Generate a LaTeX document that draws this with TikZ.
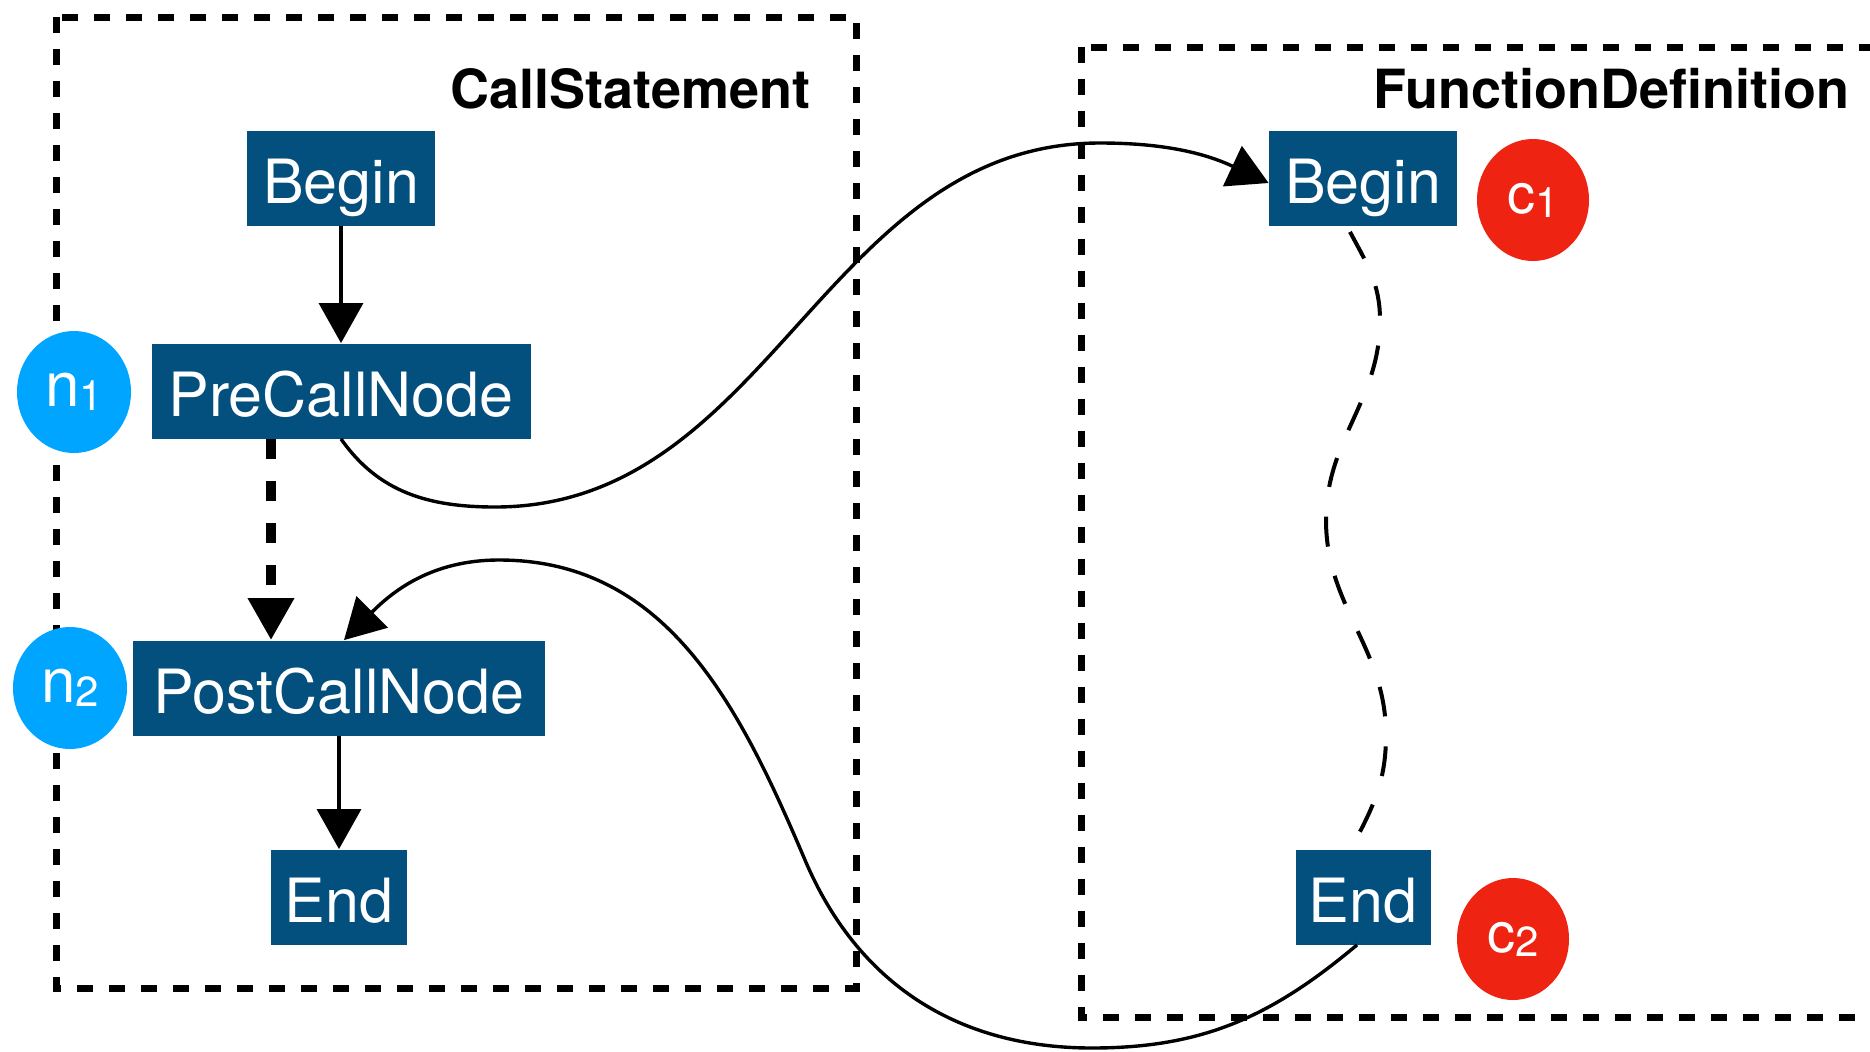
\documentclass[tikz,border=0pt]{standalone}
\usepackage{fontspec}
\setmainfont{TeX Gyre Heros}
\usetikzlibrary{arrows.meta,shapes.geometric}
\definecolor{boxblue}{RGB}{3,79,126}
\definecolor{nblue}{RGB}{0,165,255}
\definecolor{cred}{RGB}{238,35,17}
\newcommand{\idx}[1]{\raisebox{-2pt}{\fontsize{21}{21}\selectfont #1}}

\begin{document}
\begin{tikzpicture}[x=0.5pt, y=-0.5pt,
        blk/.style={fill=boxblue, text=white, minimum height=47.5pt, inner sep=0pt, text height=25pt, text depth=0pt, font=\fontsize{30.5}{30.5}\selectfont},
        ncirc/.style={ellipse, fill=nblue, text=white, minimum width=57pt, minimum height=61pt, inner sep=0pt, font=\fontsize{31}{31}\selectfont},
        ccirc/.style={ellipse, fill=cred, text=white, minimum width=56pt, minimum height=61pt, inner sep=0pt, font=\fontsize{28}{28}\selectfont},
        boxtitle/.style={anchor=base east, inner sep=0pt, font=\bfseries\fontsize{27}{27}\selectfont},
        dashframe/.style={line width=3.5pt, dash pattern=on 8pt off 8pt},
        flow/.style={line width=1.6pt, -{Triangle[width=22pt,length=20pt]}},
        flowdash/.style={line width=5pt, dash pattern=on 10pt off 11pt, -{Triangle[width=22pt,length=21pt]}},
        call/.style={line width=1.7pt, -{Triangle[width=22pt,length=20pt]}},
        seq/.style={line width=2pt, dash pattern=on 15pt off 15pt}]
                \useasboundingbox (0,0) rectangle (1870,1051);
                \clip (0,0) rectangle (1870,1051);

                % the two frames
                \draw[dashframe] (56,17) rectangle (856,988);
                \draw[dashframe] (1081,47) rectangle (1900,1017);
                \node [boxtitle] (callTitle) at (811,108) {CallStatement};
                \node [boxtitle] (funcTitle) at (1850,108) {FunctionDefinition};

                % call statement
                \node [blk, minimum width=94pt] (beginL) at (341,178) {Begin};
                \node [blk, minimum width=189.5pt] (preCall) at (341,391) {PreCallNode};
                \node [blk, minimum width=206pt] (postCall) at (339,688) {PostCallNode};
                \node [blk, minimum width=68pt] (endL) at (339,897) {End};
                \node [ncirc] (n1) at (74,392) {n\idx{1}};
                \node [ncirc] (n2) at (70,688) {n\idx{2}};

                % function definition
                \node [blk, minimum width=94pt] (beginR) at (1363,178) {Begin};
                \node [blk, minimum width=67.5pt] (endR) at (1363,897) {End};
                \node [ccirc] (c1) at (1533,200) {c\idx{1}};
                \node [ccirc] (c2) at (1513,939) {c\idx{2}};

                \draw[flow] (beginL.south) -- (preCall.north);
                \draw[flowdash] ([xshift=-35pt]preCall.south) -- ([xshift=-35pt]preCall.south |- postCall.north);
                \draw[flow] (postCall.south) -- (endL.north);

                \draw[call] (preCall.south) to[out=-55,in=180] (495,507) to[out=0,in=180] (1100,143) to[out=0,in=155] ([yshift=-2.5pt]beginR.west);
                \draw[call] ([xshift=-3pt]endR.south) to[out=-140,in=0] (1092,1048) to[out=180,in=-67] (805,860) to[out=113,in=0] (499,560) to[out=180,in=45] ([xshift=2.5pt]postCall.north);
                \draw[seq] ([xshift=-6.5pt,yshift=-3pt]beginR.south) to[out=-62,in=90] (1380,320) to[out=-90,in=90] (1326,520) to[out=-90,in=90] (1386,735) to[out=-90,in=62] ([xshift=-4.5pt,yshift=3pt]endR.north);
            \end{tikzpicture}
\end{document}
